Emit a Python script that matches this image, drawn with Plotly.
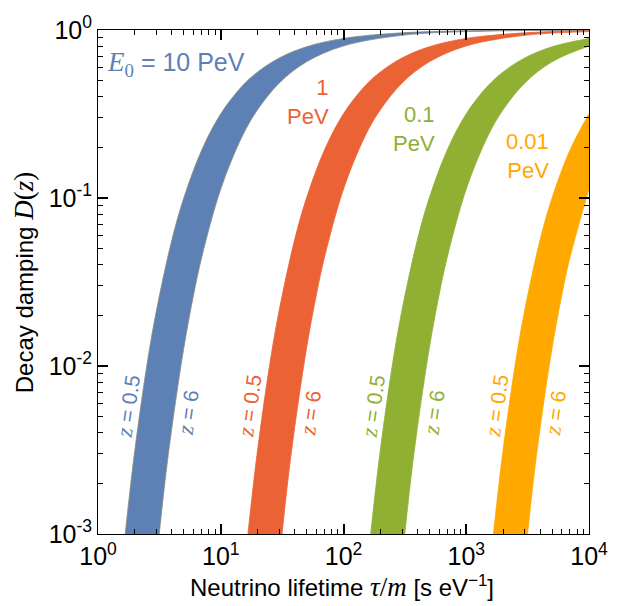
import plotly.graph_objects as go

# ---- data (tau/m in s/eV, D(z)) ----
energies = ["10 PeV", "1 PeV", "0.1 PeV", "0.01 PeV"]
colors = ["#5E81B5", "#EB6235", "#8FB032", "#FFA800"]
edge_colors = ["#8C8C7C", "#EB6235", "#8FB032", "#FFA800"]

# E0 = 10 PeV
x_10_z05 = [1.6, 1.8, 2, 2.5, 3, 4, 5, 7, 10, 15, 20, 30, 50, 100, 300, 1000, 10000]
d_10_z05 = [7.6e-4, 1.68e-3, 3.2e-3, 0.0101, 0.0216, 0.0564, 0.100, 0.193, 0.317, 0.465, 0.563, 0.682, 0.795, 0.891, 0.962, 0.989, 0.999]
x_10_z6 = [3, 3.5, 4, 5, 6, 7, 10, 15, 20, 30, 50, 100, 300, 1000, 10000]
d_10_z6 = [7.0e-4, 2.0e-3, 4.3e-3, 0.0128, 0.0264, 0.0444, 0.113, 0.234, 0.336, 0.484, 0.647, 0.804, 0.930, 0.978, 0.998]

# E0 = 1 PeV
x_1_z05 = [16, 18, 20, 25, 30, 40, 50, 70, 100, 150, 200, 300, 500, 1000, 3000, 10000]
d_1_z05 = [7.6e-4, 1.68e-3, 3.2e-3, 0.0101, 0.0216, 0.0564, 0.100, 0.193, 0.317, 0.465, 0.563, 0.682, 0.795, 0.891, 0.962, 0.989]
x_1_z6 = [30, 35, 40, 50, 60, 70, 100, 150, 200, 300, 500, 1000, 3000, 10000]
d_1_z6 = [7.0e-4, 2.0e-3, 4.3e-3, 0.0128, 0.0264, 0.0444, 0.113, 0.234, 0.336, 0.484, 0.647, 0.804, 0.930, 0.978]

# E0 = 0.1 PeV
x_01_z05 = [160, 180, 200, 250, 300, 400, 500, 700, 1000, 1500, 2000, 3000, 5000, 10000]
d_01_z05 = [7.6e-4, 1.68e-3, 3.2e-3, 0.0101, 0.0216, 0.0564, 0.100, 0.193, 0.317, 0.465, 0.563, 0.682, 0.795, 0.891]
x_01_z6 = [300, 350, 400, 500, 600, 700, 1000, 1500, 2000, 3000, 5000, 10000]
d_01_z6 = [7.0e-4, 2.0e-3, 4.3e-3, 0.0128, 0.0264, 0.0444, 0.113, 0.234, 0.336, 0.484, 0.647, 0.804]

# E0 = 0.01 PeV
x_001_z05 = [1600, 1800, 2000, 2500, 3000, 4000, 5000, 7000, 10000]
d_001_z05 = [7.6e-4, 1.68e-3, 3.2e-3, 0.0101, 0.0216, 0.0564, 0.100, 0.193, 0.317]
x_001_z6 = [3000, 3500, 4000, 5000, 6000, 7000, 10000]
d_001_z6 = [7.0e-4, 2.0e-3, 4.3e-3, 0.0128, 0.0264, 0.0444, 0.113]

x_tick_vals = [1, 10, 100, 1000, 10000]
x_tick_text = ["10<sup>0</sup>", "10<sup>1</sup>", "10<sup>2</sup>", "10<sup>3</sup>", "10<sup>4</sup>"]
y_tick_vals = [0.001, 0.01, 0.1, 1]
y_tick_text = ["10<sup>-3</sup>", "10<sup>-2</sup>", "10<sup>-1</sup>", "10<sup>0</sup>"]

bands = [
    (x_10_z05, d_10_z05, x_10_z6, d_10_z6),
    (x_1_z05, d_1_z05, x_1_z6, d_1_z6),
    (x_01_z05, d_01_z05, x_01_z6, d_01_z6),
    (x_001_z05, d_001_z05, x_001_z6, d_001_z6),
]

SANS = "Liberation Sans, Arial, sans-serif"
SERIF = "Liberation Serif"

fig = go.Figure()
for (xa, da, xb, db), col, ecol, name in zip(bands, colors, edge_colors, energies):
    fig.add_trace(go.Scatter(x=xa, y=da, mode="lines", line=dict(color=ecol, width=0.8, shape="spline", smoothing=1.0),
                             showlegend=False, hoverinfo="skip", name=name + " z=0.5"))
    fig.add_trace(go.Scatter(x=xb, y=db, mode="lines", line=dict(color=ecol, width=0.8, shape="spline", smoothing=1.0),
                             fill="tonexty", fillcolor=col, showlegend=False, hoverinfo="skip", name=name + " z=6"))

def px2paper(px, py):
    return (px - 98) / 493.0, (534 - py) / 508.0

annos = []
def add_text(px, py, text, color, size=24, angle=0, xanchor="center", yanchor="middle"):
    xp, yp = px2paper(px, py)
    annos.append(dict(x=xp, y=yp, xref="paper", yref="paper", text=text, showarrow=False,
                      font=dict(family=SANS, size=size, color=color), textangle=angle,
                      xanchor=xanchor, yanchor=yanchor, align="right"))

def math(s, size=None):
    sz = f";font-size:{size}px" if size else ""
    return f'<span style="font-family:{SERIF}{sz}">{s}</span>'

zi = math("<i>z</i>", 23)
add_text(105, 60, f'{math("<i>E</i><sub>0</sub>", 27)} = 10 PeV', colors[0], size=25, xanchor="left")
# energy labels (two lines each, right aligned)
add_text(332, 99, "1<br>PeV", colors[1], size=22, xanchor="right")
add_text(438, 126, "0.1<br>PeV", colors[2], size=22, xanchor="right")
add_text(553, 153, "0.01<br>PeV", colors[3], size=22, xanchor="right")

z_pos = [(128, 405, 189, 412), (250, 405, 312, 412), (374, 405, 436, 412), (498, 405, 558, 412)]
for (a, b, c, d), col in zip(z_pos, colors):
    add_text(a, b, f"{zi} = 0.5", col, size=21, angle=-82)
    add_text(c, d, f"{zi} = 6", col, size=21, angle=-82)

# axis titles
add_text(343, 587, f'Neutrino lifetime {math("<i>τ</i>/<i>m</i>", 27)} [s eV<sup>−1</sup>]', "black", size=24)
add_text(24, 281, f'Decay damping {math("<i>D</i>(<i>z</i>)", 27)}', "black", size=24, angle=-90)

axis_common = dict(
    type="log", showgrid=False, zeroline=False, showline=True, linecolor="black", linewidth=1,
    mirror="ticks", ticks="inside", ticklen=10, tickwidth=1.5, tickcolor="black",
    tickfont=dict(family=SANS, size=25, color="black"),
    minor=dict(ticks="inside", ticklen=5, tickwidth=1, tickcolor="black", dtick="D1", showgrid=False),
)

fig.update_xaxes(range=[0, 4], tickmode="array", tickvals=x_tick_vals, ticktext=x_tick_text, **axis_common)
fig.update_yaxes(range=[-3, 0], tickmode="array", tickvals=y_tick_vals, ticktext=y_tick_text, **axis_common)

fig.update_layout(
    width=620, height=606,
    margin=dict(l=98, r=29, t=26, b=72),
    paper_bgcolor="white", plot_bgcolor="white",
    annotations=annos,
    showlegend=False,
)

fig.write_html("out.html", config={"displayModeBar": False},
               post_script="document.body.style.margin='0';document.body.style.overflow='hidden';")
